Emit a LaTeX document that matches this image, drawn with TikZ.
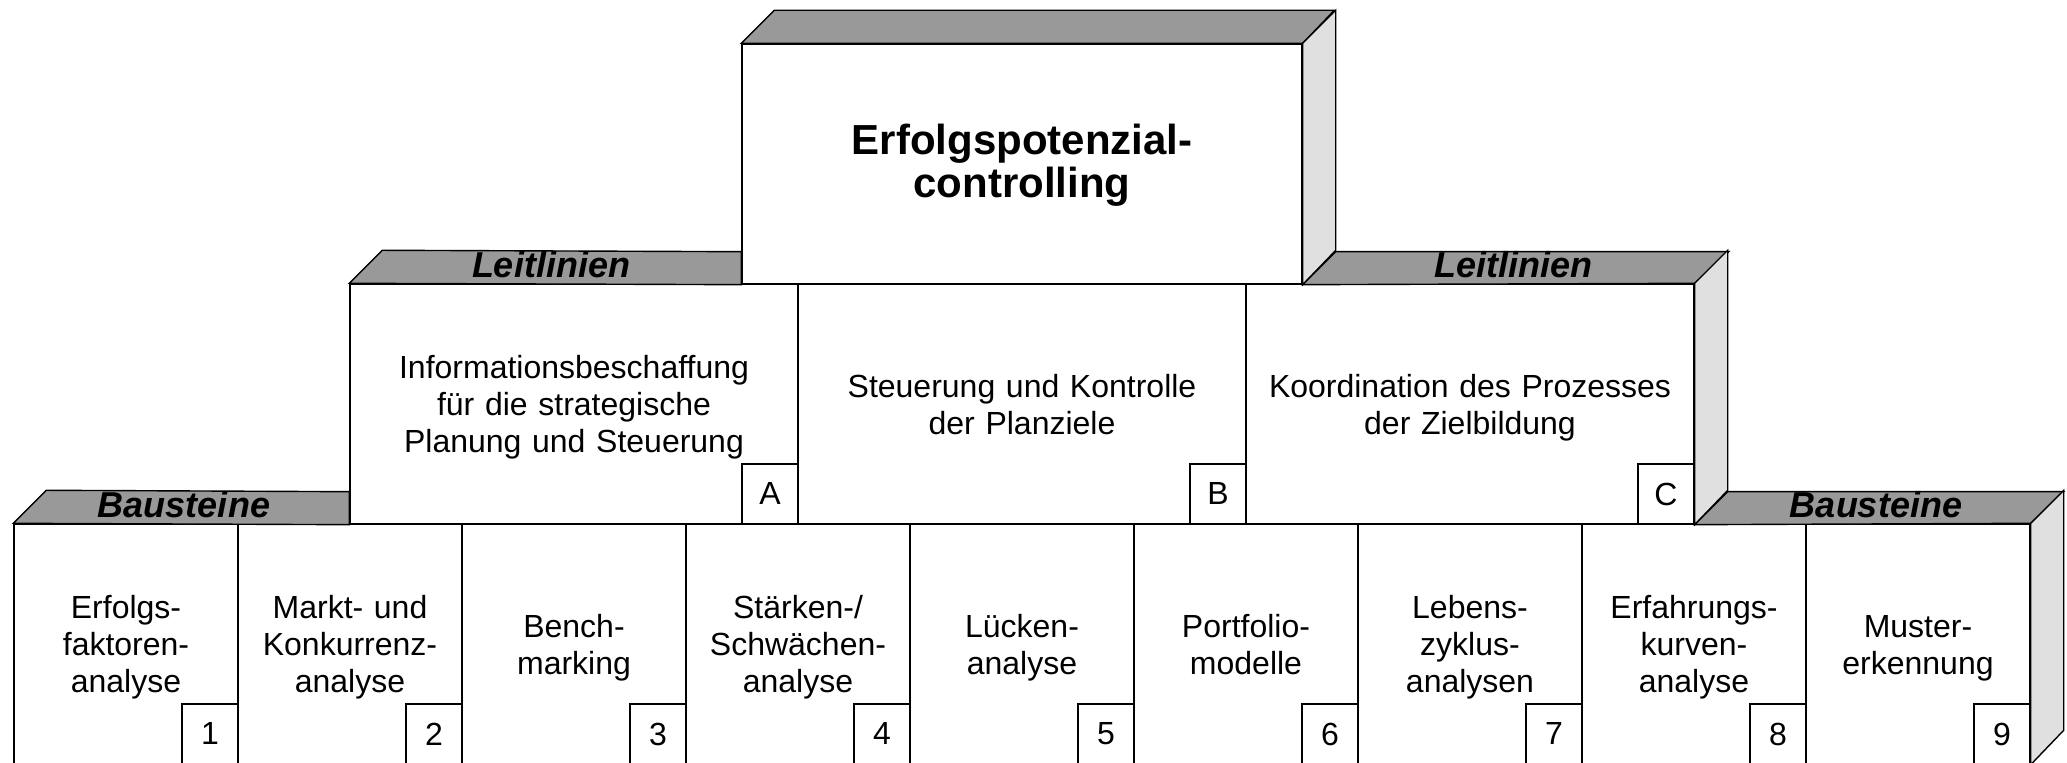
\documentclass[tikz,border=0pt]{standalone}
\usepackage{fontspec}
\setmainfont{Liberation Sans}
\usetikzlibrary{calc}
\definecolor{bandgray}{gray}{0.6}
\definecolor{sidegray}{gray}{0.88}

\begin{document}
\begin{tikzpicture}[x=0.5pt,y=0.5pt,
	face/.style={draw,fill=white,line width=0.7pt,align=center,inner sep=0pt},
	box/.style={face,font=\fontsize{16}{18.5}\selectfont,
		execute at begin node={\rule{0pt}{16pt}},
		execute at end node={\rule[-4pt]{0pt}{0pt}}},
	brick/.style={box,minimum width=112pt,minimum height=120pt,text width=106pt},
	guide/.style={box,minimum width=224pt,minimum height=120pt,text width=218pt},
	crown/.style={face,minimum width=280pt,minimum height=120pt,text width=270pt,
		font=\fontsize{21}{21.5}\selectfont\bfseries,
		execute at begin node={\rule{0pt}{18pt}},
		execute at end node={\rule[-5.5pt]{0pt}{0pt}}},
	numbox/.style={draw,fill=white,line width=0.7pt,minimum width=28pt,
		minimum height=30pt,inner sep=0pt,anchor=south east,
		font=\fontsize{16}{18.5}\selectfont},
	band/.style={draw,fill=bandgray,line width=0.7pt},
	side/.style={draw,fill=sidegray,line width=0.7pt},
	tag/.style={anchor=base,inner sep=0pt,
		font=\fontsize{18}{20}\selectfont\bfseries\itshape}]
\useasboundingbox (0,0) rectangle (2067,763);
% boxes
\node[crown] (top) at (1022,599) {Erfolgspotenzial-\\controlling};
\node[guide] (gA) at (574,359) {Informationsbeschaffung\\f\"ur die strategische\\Planung und Steuerung};
\node[guide] (gB) at (1022,359) {Steuerung und Kontrolle\\der Planziele};
\node[guide] (gC) at (1470,359) {Koordination des Prozesses\\der Zielbildung};
\node[brick] (b1) at (126,119) {Erfolgs-\\faktoren-\\analyse};
\node[brick] (b2) at (350,119) {Markt- und\\Konkurrenz-\\analyse};
\node[brick] (b3) at (574,119) {Bench-\\marking};
\node[brick] (b4) at (798,119) {St\"arken-/\\Schw\"achen-\\analyse};
\node[brick] (b5) at (1022,119) {L\"ucken-\\analyse};
\node[brick] (b6) at (1246,119) {Portfolio-\\modelle};
\node[brick] (b7) at (1470,119) {Lebens-\\zyklus-\\analysen};
\node[brick] (b8) at (1694,119) {Erfahrungs-\\kurven-\\analyse};
\node[brick] (b9) at (1918,119) {Muster-\\erkennung};
% top and side faces
\draw[band] (top.north west) -- ++(33,33) -- ++(560,0) -- (top.north east) -- cycle;
\draw[side] (top.north east) -- ++(33,33) -- ++(0,-240) -- (top.south east) -- cycle;
\draw[band] (gA.north west) -- ++(33,33) -- ($(top.south west)+(0,33)$) -- (top.south west) -- cycle;
\draw[band] (top.south east) -- ++(33,33) -- ++(393,0) -- (gC.north east) -- cycle;
\draw[side] (gC.north east) -- ++(33,33) -- ++(0,-240) -- (gC.south east) -- cycle;
\draw[band] (b1.north west) -- ++(33,33) -- ($(gA.south west)+(0,33)$) -- (gA.south west) -- cycle;
\draw[band] (gC.south east) -- ++(33,33) -- ++(336,0) -- (b9.north east) -- cycle;
\draw[side] (b9.north east) -- ++(33,33) -- ++(0,-240) -- (b9.south east) -- cycle;
% labels
\node[tag] (lA) at (551,485) {Leitlinien};
\node[tag] (lC) at (1513,485) {Leitlinien};
\node[tag] (sL) at (184,245) {Bausteine};
\node[tag] (sR) at (1876,245) {Bausteine};
% letter and number boxes
\node[numbox] (nA) at (gA.south east) {A};
\node[numbox] (nB) at (gB.south east) {B};
\node[numbox] (nC) at (gC.south east) {C};
\node[numbox] (n1) at (b1.south east) {1};
\node[numbox] (n2) at (b2.south east) {2};
\node[numbox] (n3) at (b3.south east) {3};
\node[numbox] (n4) at (b4.south east) {4};
\node[numbox] (n5) at (b5.south east) {5};
\node[numbox] (n6) at (b6.south east) {6};
\node[numbox] (n7) at (b7.south east) {7};
\node[numbox] (n8) at (b8.south east) {8};
\node[numbox] (n9) at (b9.south east) {9};
\end{tikzpicture}
\end{document}
